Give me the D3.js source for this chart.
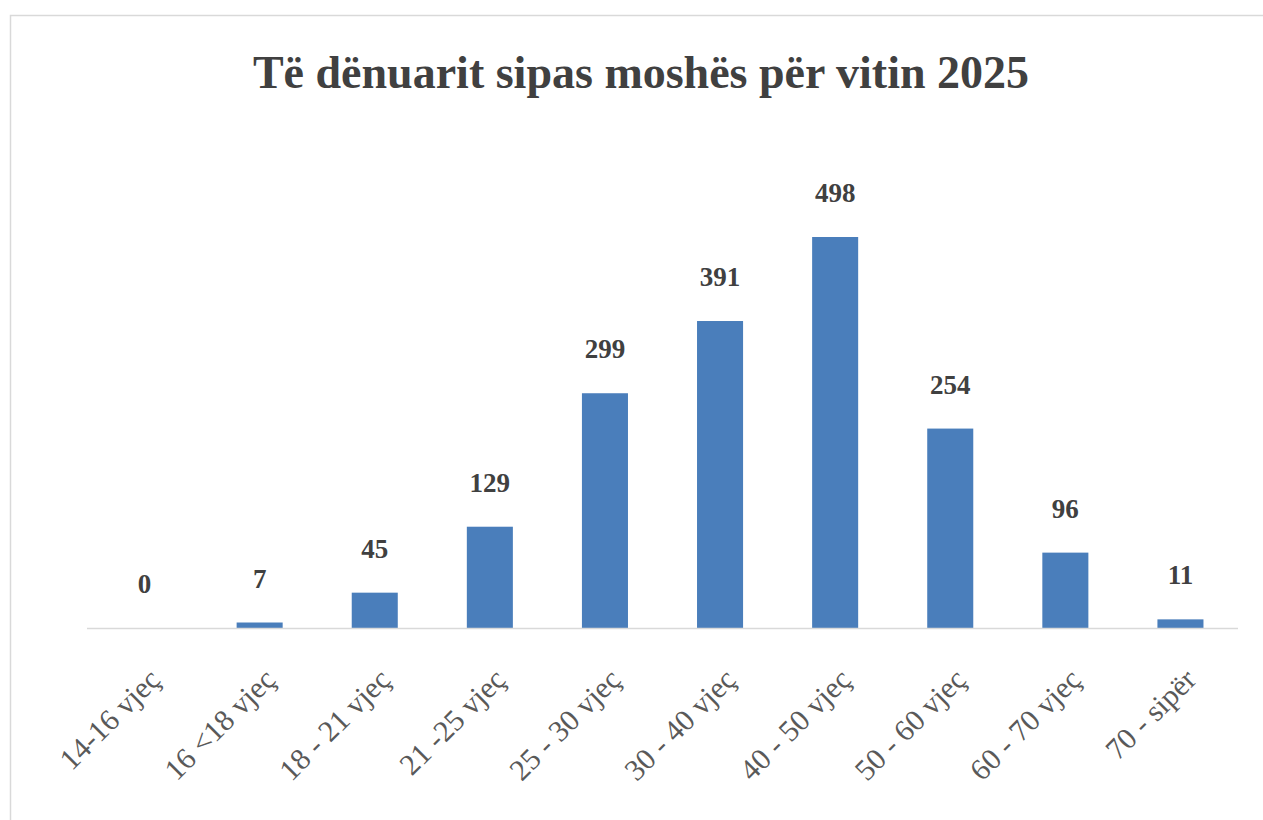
<!DOCTYPE html>
<html>
<head>
<meta charset="utf-8">
<script src="https://cdn.jsdelivr.net/npm/d3@7"></script>
<style>
  body { margin: 0; background: #fff; }
  svg { display: block; }
</style>
</head>
<body>
<svg width="1263" height="820"></svg>
<script>
let svg = d3.select('svg');

const categories = ['14-16 vjeç', '16 <18 vjeç', '18 - 21 vjeç', '21 -25 vjeç', '25 - 30 vjeç',
                    '30 - 40 vjeç', '40 - 50 vjeç', '50 - 60 vjeç', '60 - 70 vjeç', '70 - sipër'];
const values = [0, 7, 45, 129, 299, 391, 498, 254, 96, 11];
const title = 'Të dënuarit sipas moshës për vitin 2025';

const left = 87, right = 1238, baseY = 628;

// chart frame
svg.append('rect')
    .attr('x', 10.5).attr('y', 15.5)
    .attr('width', 1300).attr('height', 900)
    .attr('fill', 'none')
    .attr('stroke', '#d9d9d9')
    .attr('stroke-width', 1.5);

svg.append('text')
    .attr('x', 641).attr('y', 88)
    .attr('text-anchor', 'middle')
    .attr('font-family', 'Liberation Serif')
    .attr('font-weight', 'bold')
    .attr('font-size', 46)
    .attr('fill', '#404040')
    .text(title);

let scaleX = d3.scaleBand().domain(categories).range([left, right]).paddingInner(0.6).paddingOuter(0.3);
let scaleY = d3.scaleLinear().domain([0, 498]).range([baseY, 237]);

svg.selectAll('.bar')
    .data(values)
    .enter()
    .append('rect')
    .attr('class', 'bar')
    .attr('x', (d, i) => scaleX(categories[i]))
    .attr('width', scaleX.bandwidth())
    .attr('y', d => scaleY(d))
    .attr('height', d => baseY - scaleY(d))
    .attr('fill', '#4a7ebb');

svg.selectAll('.val')
    .data(values)
    .enter()
    .append('text')
    .attr('class', 'val')
    .attr('x', (d, i) => scaleX(categories[i]) + scaleX.bandwidth() / 2)
    .attr('y', d => scaleY(d) - 35)
    .attr('text-anchor', 'middle')
    .attr('font-family', 'Liberation Serif')
    .attr('font-weight', 'bold')
    .attr('font-size', 27)
    .attr('fill', '#404040')
    .text(d => d);

// x axis
let axis = svg.append('g')
    .attr('transform', 'translate(0,' + baseY + ')')
    .call(d3.axisBottom(scaleX).tickSize(0).tickSizeOuter(0));

axis.select('.domain')
    .attr('stroke', '#d9d9d9')
    .attr('stroke-width', 1.5)
    .attr('d', 'M' + left + ',0.5H' + right);

axis.selectAll('text')
    .attr('font-family', 'Liberation Serif')
    .attr('font-size', 30)
    .attr('fill', '#595959')
    .attr('text-anchor', 'end')
    .attr('y', 0)
    .attr('dy', '0.35em')
    .attr('transform', 'translate(10,46) rotate(-45)');
</script>
</body>
</html>
